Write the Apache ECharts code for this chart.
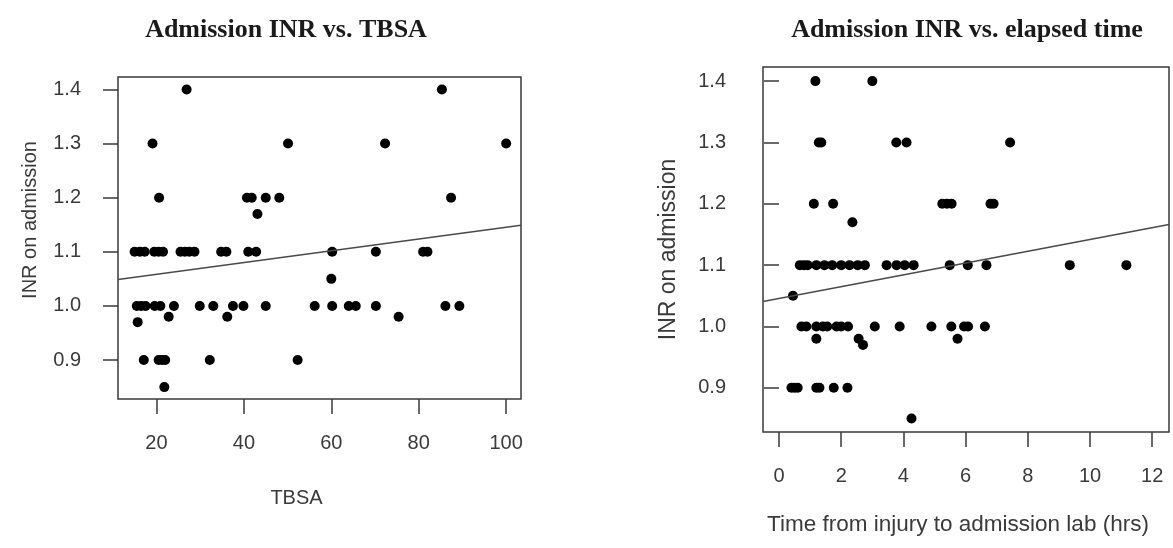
<!DOCTYPE html>
<html>
<head>
<meta charset="utf-8">
<script src="https://cdn.jsdelivr.net/npm/echarts@6/dist/echarts.min.js"></script>
<style>
html,body{margin:0;padding:0;background:#fff;}
#chart{width:1173px;height:548px;}
</style>
</head>
<body>
<div id="chart"></div>
<script>
// ---- Left panel: Admission INR vs. TBSA ----
const tbsaX = [
  26.9, 85.3,
  19.1, 50.1, 72.3, 100,
  20.6, 40.7, 41.8, 45, 48.1, 87.4,
  43.1,
  15, 16.2, 17.3, 19.5, 20.5, 21.5, 25.5, 26.5, 27.5, 28.7, 34.8, 36, 41, 42.8, 60.2, 70.2, 81, 82,
  60,
  15.5, 16.5, 17.5, 19.6, 20.9, 24, 29.9, 33, 37.5, 39.9, 45, 56.2, 60.2, 64, 65.6, 70.2, 86.1, 89.3,
  22.8, 36.2, 75.4,
  15.7,
  17.1, 20.5, 21.3, 22, 32.2, 52.3,
  21.8
];
const tbsaInr = [
  1.4, 1.4,
  1.3, 1.3, 1.3, 1.3,
  1.2, 1.2, 1.2, 1.2, 1.2, 1.2,
  1.17,
  1.1, 1.1, 1.1, 1.1, 1.1, 1.1, 1.1, 1.1, 1.1, 1.1, 1.1, 1.1, 1.1, 1.1, 1.1, 1.1, 1.1, 1.1,
  1.05,
  1.0, 1.0, 1.0, 1.0, 1.0, 1.0, 1.0, 1.0, 1.0, 1.0, 1.0, 1.0, 1.0, 1.0, 1.0, 1.0, 1.0, 1.0,
  0.98, 0.98, 0.98,
  0.97,
  0.9, 0.9, 0.9, 0.9, 0.9, 0.9,
  0.85
];
const tbsaFit = { intercept: 1.0368, slope: 0.001085 };
const tbsaRange = [11.2, 103.4];
const tbsaTicks = [20, 40, 60, 80, 100];

// ---- Right panel: Admission INR vs. elapsed time ----
const timeX = [
  1.17, 3.0,
  1.28, 1.36, 3.77, 4.1, 7.43,
  1.12, 1.74, 5.25, 5.4, 5.55, 6.8, 6.9,
  2.36,
  0.67, 0.8, 0.92, 1.2, 1.46, 1.71, 2.0, 2.27, 2.53, 2.76, 3.46, 3.78, 4.04, 4.33, 5.49, 6.07, 6.67, 9.35, 11.17,
  0.45,
  0.72, 0.88, 1.2, 1.41, 1.55, 1.85, 2.0, 2.22, 3.08, 3.88, 4.9, 5.54, 5.95, 6.08, 6.62,
  1.2, 2.56, 5.74,
  2.7,
  0.4, 0.5, 0.6, 1.2, 1.3, 1.76, 2.2,
  4.26
];
const timeInr = [
  1.4, 1.4,
  1.3, 1.3, 1.3, 1.3, 1.3,
  1.2, 1.2, 1.2, 1.2, 1.2, 1.2, 1.2,
  1.17,
  1.1, 1.1, 1.1, 1.1, 1.1, 1.1, 1.1, 1.1, 1.1, 1.1, 1.1, 1.1, 1.1, 1.1, 1.1, 1.1, 1.1, 1.1, 1.1,
  1.05,
  1.0, 1.0, 1.0, 1.0, 1.0, 1.0, 1.0, 1.0, 1.0, 1.0, 1.0, 1.0, 1.0, 1.0, 1.0,
  0.98, 0.98, 0.98,
  0.97,
  0.9, 0.9, 0.9, 0.9, 0.9, 0.9, 0.9,
  0.85
];
const timeFit = { intercept: 1.0458, slope: 0.00961 };
const timeRange = [-0.515, 12.54];
const timeTicks = [0, 2, 4, 6, 8, 10, 12];

const inrTicks = [0.9, 1.0, 1.1, 1.2, 1.3, 1.4];
const inrRange = [0.828, 1.423];

function pairs(xs, ys) { return xs.map((x, i) => [x, ys[i]]); }
function fitLine(fit, range) { return range.map(x => [x, fit.intercept + fit.slope * x]); }

const textColor = '#3a3a3a';
const lineColor = '#3a3a3a';
const sans = '"Liberation Sans", Arial, sans-serif';
const serif = '"Liberation Serif", "Times New Roman", serif';

function xAxisCfg(gridIndex, range, ticks, name, pad, gap, nameSize) {
  return {
    type: 'value', gridIndex, min: range[0], max: range[1],
    name, nameLocation: 'middle', nameGap: gap,
    nameTextStyle: { fontFamily: sans, fontSize: nameSize, color: textColor, padding: pad },
    splitLine: { show: false },
    axisLine: { show: false },
    axisTick: { show: true, inside: false, length: 15, customValues: ticks, lineStyle: { color: lineColor, width: 1.5 } },
    axisLabel: { customValues: ticks, margin: 34, fontFamily: sans, fontSize: 20, color: textColor }
  };
}
function yAxisCfg(gridIndex, name, pad, gap, nameSize) {
  return {
    type: 'value', gridIndex, min: inrRange[0], max: inrRange[1],
    name, nameLocation: 'middle', nameGap: gap,
    nameTextStyle: { fontFamily: sans, fontSize: nameSize, color: textColor, padding: pad },
    splitLine: { show: false },
    axisLine: { show: false },
    axisTick: { show: true, inside: false, length: 15, customValues: inrTicks, lineStyle: { color: lineColor, width: 1.5 } },
    axisLabel: { customValues: inrTicks, margin: 37, fontFamily: sans, fontSize: 20, color: textColor,
      formatter: v => v.toFixed(1) }
  };
}

const chart = echarts.init(document.getElementById('chart'), null, { renderer: 'canvas' });
chart.setOption({
  backgroundColor: '#ffffff',
  animation: false,
  title: [
    { text: 'Admission INR vs. TBSA', left: 281, top: 12, textAlign: 'center',
      textStyle: { fontFamily: serif, fontWeight: 'bold', fontSize: 26, color: '#1a1a1a' } },
    { text: 'Admission INR vs. elapsed time', left: 962, top: 12, textAlign: 'center',
      textStyle: { fontFamily: serif, fontWeight: 'bold', fontSize: 26, color: '#1a1a1a' } }
  ],
  grid: [
    { left: 118, top: 77, width: 403, height: 322, show: true, borderColor: lineColor, borderWidth: 1.5, backgroundColor: 'transparent' },
    { left: 763, top: 67, width: 406, height: 365, show: true, borderColor: lineColor, borderWidth: 1.5, backgroundColor: 'transparent' }
  ],
  xAxis: [
    xAxisCfg(0, tbsaRange, tbsaTicks, 'TBSA', [0, 46, 0, 0], 89, 20),
    xAxisCfg(1, timeRange, timeTicks, 'Time from injury to admission lab (hrs)', [0, 16, 0, 0], 81, 22.5)
  ],
  yAxis: [
    yAxisCfg(0, 'INR on admission', [0, 0, 0, 36], 78, 20),
    yAxisCfg(1, 'INR on admission', 0, 83, 23)
  ],
  series: [
    { type: 'scatter', xAxisIndex: 0, yAxisIndex: 0, data: pairs(tbsaX, tbsaInr),
      symbol: 'circle', symbolSize: 10, itemStyle: { color: '#000', opacity: 1 } },
    { type: 'line', xAxisIndex: 0, yAxisIndex: 0, data: fitLine(tbsaFit, tbsaRange),
      symbol: 'none', lineStyle: { color: '#4a4a4a', width: 1.6 }, clip: true },
    { type: 'scatter', xAxisIndex: 1, yAxisIndex: 1, data: pairs(timeX, timeInr),
      symbol: 'circle', symbolSize: 10, itemStyle: { color: '#000', opacity: 1 } },
    { type: 'line', xAxisIndex: 1, yAxisIndex: 1, data: fitLine(timeFit, timeRange),
      symbol: 'none', lineStyle: { color: '#4a4a4a', width: 1.6 }, clip: true }
  ]
});
</script>
</body>
</html>
